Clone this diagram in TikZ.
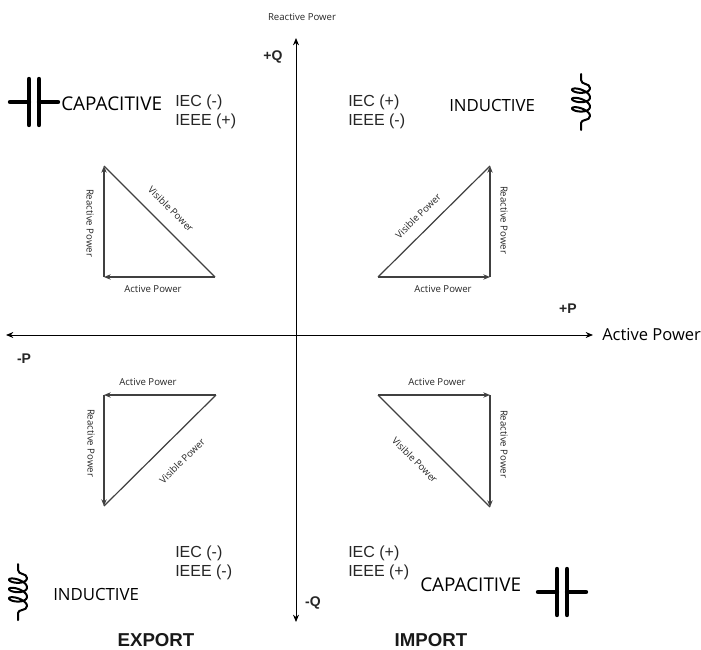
\documentclass[tikz,border=0pt]{standalone}
\usepackage{fontspec}
\setmainfont{Liberation Sans}
\newfontfamily\thinfont{Open Sans}
\usetikzlibrary{arrows.meta}
\tikzset{
  x=0.75pt,y=-0.75pt,
  axis/.style={draw=black,line width=0.7pt,-{Stealth[length=5.5pt,width=4.5pt]}},
  tri/.style={draw=black!75,line width=0.9pt},
  triarrow/.style={tri,-{Stealth[length=5pt,width=4pt]}},
  small/.style={font=\thinfont\fontsize{7.2}{8}\selectfont,text=black!85,inner sep=0pt},
  std/.style={font=\fontsize{12}{14.2}\selectfont,text=black!85,inner sep=0pt,align=left},
  modec/.style={font=\thinfont\fontsize{14.2}{16}\selectfont,text=black,inner sep=0pt},
  modei/.style={font=\thinfont\fontsize{12.6}{14}\selectfont,text=black,inner sep=0pt},
  head/.style={font=\bfseries\fontsize{14}{16}\selectfont,text=black!90,inner sep=0pt},
  sign/.style={font=\bfseries\fontsize{10.5}{12}\selectfont,text=black!85,inner sep=0pt},
  sym/.style={line width=3.3pt,line cap=round,draw=black},
  coil/.style={line width=1.5pt,draw=black,line cap=round,line join=round},
}
\newcommand{\capsym}[2]{%
  \begin{scope}[shift={(#1,#2)}]
    \draw[sym] (-24,0) -- (-5,0) (-5,-23) -- (-5,23) (5,-23) -- (5,23) (5,0) -- (24,0);
  \end{scope}}
\newcommand{\coilsym}[2]{%
  \begin{scope}[shift={(#1,#2)}]
    \draw[coil] (0,-28) -- (0,-22) .. controls (0,-17) and (9,-19) .. (9,-14);
    \draw[coil,smooth,samples=160,domain=0:1080,variable=\t]
      plot ({9*cos(\t)},{-14+0.026*\t+4*sin(\t)+1.5*(cos(\t)-1)});
    \draw[coil] (9,14) .. controls (9,19) and (0,17) .. (0,21) -- (0,28);
  \end{scope}}
\begin{document}
\begin{tikzpicture}
\useasboundingbox (0,0) rectangle (701,650);
\fill[white] (0,0) rectangle (701,650);
% axes
\coordinate (o) at (296,335);
\coordinate (xl) at (6,335); \coordinate (xr) at (593,335);
\coordinate (yt) at (296,38); \coordinate (yb) at (296,622);
\draw[axis] (o) -- (xr); \draw[axis] (o) -- (xl);
\draw[axis] (o) -- (yt); \draw[axis] (o) -- (yb);
\node[small] (rp) at (302,17) {Reactive Power};
\node[anchor=west,inner sep=0pt,font=\thinfont\fontsize{12.4}{14}\selectfont] (ap) at (602,335) {Active Power};
\node[sign] (pq) at (273,57) {+Q};
\node[sign] (mq) at (313,603) {-Q};
\node[sign] (pp) at (568,309) {+P};
\node[sign] (mp) at (24,359) {-P};
% texts
\node[std,anchor=north west] (t1) at (175,95) {IEC (-)\\IEEE (+)};
\node[std,anchor=north west] (t2) at (348,95) {IEC (+)\\IEEE (-)};
\node[std,anchor=north west] (t3) at (175,546) {IEC (-)\\IEEE (-)};
\node[std,anchor=north west] (t4) at (348,546) {IEC (+)\\IEEE (+)};
\node[modec,anchor=west] (c1) at (61,104) {CAPACITIVE};
\node[modei,anchor=west] (i1) at (449,105) {INDUCTIVE};
\node[modei,anchor=west] (i2) at (53,594) {INDUCTIVE};
\node[modec,anchor=west] (c2) at (420,585) {CAPACITIVE};
\node[head] (ex) at (156,640) {EXPORT};
\node[head] (im) at (431,640) {IMPORT};
\capsym{34}{102}
\capsym{562}{592}
\coilsym{581}{102}
\coilsym{18}{592}
% top-left triangle
\coordinate (a1) at (104,277); \coordinate (a2) at (104,166); \coordinate (a3) at (215,277);
\draw[triarrow] (a1) -- (a2); \draw[triarrow] (a3) -- (a1); \draw[tri] (a2) -- (a3);
\node[small,rotate=-90] (a4) at (90,223) {Reactive Power};
\node[small,rotate=-45] (a5) at (171,209) {Visible Power};
\node[small] (a6) at (153,289) {Active Power};
% top-right triangle
\coordinate (b1) at (490,277); \coordinate (b2) at (490,166); \coordinate (b3) at (378,277);
\draw[triarrow] (b1) -- (b2); \draw[triarrow] (b3) -- (b1); \draw[tri] (b3) -- (b2);
\node[small,rotate=-90] (b4) at (504,220) {Reactive Power};
\node[small,rotate=45] (b5) at (418,216) {Visible Power};
\node[small] (b6) at (443,289) {Active Power};
% bottom-left triangle
\coordinate (c1p) at (104,395); \coordinate (c2p) at (104,506); \coordinate (c3p) at (216,395);
\draw[triarrow] (c1p) -- (c2p); \draw[triarrow] (c3p) -- (c1p); \draw[tri] (c2p) -- (c3p);
\node[small,rotate=-90] (c4) at (91,443) {Reactive Power};
\node[small,rotate=45] (c5) at (182,461) {Visible Power};
\node[small] (c6) at (148,382) {Active Power};
% bottom-right triangle
\coordinate (d1) at (490,395); \coordinate (d2) at (490,507); \coordinate (d3) at (378,395);
\draw[triarrow] (d1) -- (d2); \draw[triarrow] (d3) -- (d1); \draw[tri] (d3) -- (d2);
\node[small,rotate=-90] (d4) at (504,444) {Reactive Power};
\node[small,rotate=-45] (d5) at (415,460) {Visible Power};
\node[small] (d6) at (437,382) {Active Power};
\end{tikzpicture}
\end{document}
